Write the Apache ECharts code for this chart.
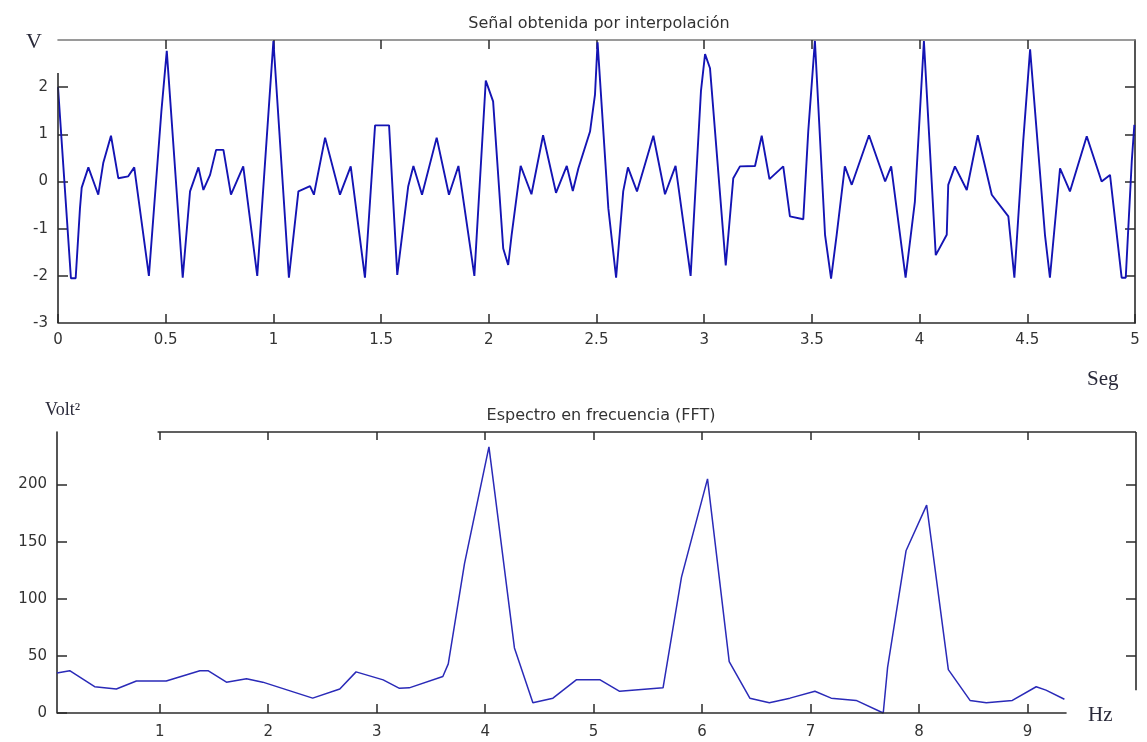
<!DOCTYPE html>
<html>
<head>
<meta charset="utf-8">
<script src="https://cdn.jsdelivr.net/npm/echarts@6/dist/echarts.min.js"></script>
<style>
html,body{margin:0;padding:0;background:#fff;}
#chart{width:1147px;height:742px;}
</style>
</head>
<body>
<div id="chart"></div>
<script>
// ---- Data ----
// Top panel: interpolated signal, [time (s), voltage (V)]
const signalPoints = [
  [0,2.0],[0.06,-2.05],[0.082,-2.05],[0.102,-0.57],[0.11,-0.13],[0.141,0.3],[0.187,-0.28],
  [0.21,0.39],[0.246,0.97],[0.28,0.07],[0.326,0.11],[0.354,0.3],[0.422,-2.0],[0.48,1.49],
  [0.505,2.77],[0.579,-2.04],[0.613,-0.21],[0.652,0.3],[0.675,-0.18],[0.706,0.14],[0.734,0.67],
  [0.768,0.67],[0.803,-0.28],[0.86,0.32],[0.925,-2.0],[1.0,2.98],[1.072,-2.04],[1.116,-0.21],
  [1.17,-0.1],[1.188,-0.28],[1.24,0.93],[1.309,-0.28],[1.359,0.32],[1.425,-2.04],[1.472,1.19],
  [1.537,1.19],[1.575,-1.98],[1.626,-0.1],[1.65,0.33],[1.69,-0.28],[1.758,0.93],[1.815,-0.28],
  [1.859,0.33],[1.933,-2.0],[1.986,2.14],[2.02,1.7],[2.067,-1.42],[2.09,-1.77],[2.106,-1.13],
  [2.148,0.33],[2.198,-0.27],[2.252,0.98],[2.312,-0.24],[2.362,0.33],[2.39,-0.2],[2.416,0.28],
  [2.47,1.06],[2.493,1.84],[2.505,2.95],[2.555,-0.57],[2.591,-2.04],[2.624,-0.21],[2.646,0.3],
  [2.688,-0.21],[2.764,0.97],[2.818,-0.27],[2.867,0.33],[2.937,-2.0],[2.985,1.92],[3.004,2.7],
  [3.027,2.4],[3.1,-1.78],[3.135,0.07],[3.166,0.32],[3.236,0.33],[3.267,0.97],[3.303,0.05],
  [3.367,0.32],[3.398,-0.74],[3.46,-0.8],[3.483,1.06],[3.514,2.98],[3.561,-1.13],[3.589,-2.06],
  [3.615,-1.13],[3.653,0.32],[3.685,-0.07],[3.765,0.98],[3.84,0.0],[3.868,0.32],[3.935,-2.04],
  [3.978,-0.43],[4.02,2.98],[4.075,-1.56],[4.126,-1.13],[4.133,-0.07],[4.164,0.32],[4.219,-0.18],
  [4.27,0.98],[4.335,-0.28],[4.412,-0.74],[4.44,-2.04],[4.481,0.85],[4.513,2.8],[4.582,-1.13],
  [4.605,-2.04],[4.652,0.28],[4.698,-0.21],[4.776,0.96],[4.845,0.0],[4.884,0.14],[4.938,-2.04],
  [4.957,-2.04],[4.985,0.43],[4.997,1.2]
];
// Bottom panel: FFT spectrum, [frequency (Hz), Volt^2]
const spectrumPoints = [
  [0.053,35],[0.17,37],[0.4,23],[0.6,21],[0.785,28],[1.06,28],[1.37,37],[1.445,37],[1.615,27],
  [1.8,30],[1.95,27],[2.41,13],[2.66,21],[2.81,36],[3.06,29],[3.21,21.6],[3.3,22],[3.61,32],
  [3.66,43],[3.81,131],[4.035,233],[4.09,192],[4.27,57],[4.44,9],[4.625,13],[4.84,29],[5.06,29],
  [5.24,19],[5.64,22],[5.81,119],[6.05,205],[6.25,45],[6.44,13],[6.62,9],[6.81,13],[7.04,19],
  [7.19,13],[7.42,11],[7.67,0],[7.71,40],[7.88,142],[8.07,182],[8.27,38],[8.47,11],[8.62,9],
  [8.86,11],[9.08,23],[9.17,20],[9.34,12]
];
// Tick labels
const topYLabels = [-3,-2,-1,0,1,2];
const topYTicks = [-2,-1,0,1,2];
const topXTicksTop = [0.5,1,1.5,2,2.5,3,3.5,4,4.5];
const botXLabels = [1,2,3,4,5,6,7,8,9];
const botXTicksTop = [1,2,3,4,5,6,7,8,9];
const botYLabels = [0,50,100,150,200];
const botYTicksRight = [50,100,150,200];
// Titles
const topTitle = 'Señal obtenida por interpolación';
const botTitle = 'Espectro en frecuencia (FFT)';

// Axis extents
const topX = [0,5], topY = [-3,3];
const botX = [0.053,10], botY = [0,246];
// Partial frame lines (data coordinates)
const topLeftAxisEnd = 2.3;
const botBottomAxisEnd = 9.36;
const botTopFrameStart = 0.98;
const botRightFrameStart = 20;

const chart = echarts.init(document.getElementById('chart'), null, {renderer:'canvas'});
const axisColor = '#2b2b2b';
const frameColor = '#7a7a7a';
const labelFont = {color:'#333', fontSize:15, fontFamily:'DejaVu Sans'};

function ml(a, b, color){
  return [{coord:a, lineStyle:{color:color, width:1.6, type:'solid'}}, {coord:b}];
}

const option = {
  backgroundColor:'#ffffff',
  animation:false,
  title:[
    {text:topTitle, left:594, top:11, textAlign:'center',
     textStyle:{fontSize:16, fontWeight:'normal', color:'#333', fontFamily:'DejaVu Sans'}},
    {text:botTitle, left:596, top:403, textAlign:'center',
     textStyle:{fontSize:16, fontWeight:'normal', color:'#333', fontFamily:'DejaVu Sans'}}
  ],
  grid:[
    {left:58, right:12, top:40, height:283},
    {left:57, right:11, top:432, height:281}
  ],
  xAxis:[
    {gridIndex:0, type:'value', min:topX[0], max:topX[1], interval:0.5, position:'bottom',
     axisLine:{show:true, onZero:false, lineStyle:{color:axisColor, width:1.6}},
     axisTick:{show:true, inside:true, length:9, lineStyle:{color:axisColor, width:1.5}},
     axisLabel:{...labelFont, margin:10, showMinLabel:true, showMaxLabel:true},
     splitLine:{show:false}},
    {gridIndex:0, type:'value', min:topX[0], max:topX[1], position:'top',
     axisLine:{show:true, onZero:false, lineStyle:{color:frameColor, width:1.6}},
     axisTick:{show:true, inside:true, length:9, customValues:topXTicksTop, lineStyle:{color:axisColor, width:1.5}},
     axisLabel:{show:false}, splitLine:{show:false}},
    {gridIndex:1, type:'value', min:botX[0], max:botX[1], position:'bottom',
     axisLine:{show:false, onZero:false},
     axisTick:{show:true, inside:true, length:9, customValues:botXLabels, lineStyle:{color:axisColor, width:1.5}},
     axisLabel:{...labelFont, margin:12, customValues:botXLabels},
     splitLine:{show:false}},
    {gridIndex:1, type:'value', min:botX[0], max:botX[1], position:'top',
     axisLine:{show:false, onZero:false},
     axisTick:{show:true, inside:true, length:8, customValues:botXTicksTop, lineStyle:{color:axisColor, width:1.5}},
     axisLabel:{show:false}, splitLine:{show:false}}
  ],
  yAxis:[
    {gridIndex:0, type:'value', min:topY[0], max:topY[1], position:'left',
     axisLine:{show:false, onZero:false},
     axisTick:{show:true, inside:true, length:10, customValues:topYTicks, lineStyle:{color:axisColor, width:1.5}},
     axisLabel:{...labelFont, margin:10, customValues:topYLabels},
     splitLine:{show:false}},
    {gridIndex:0, type:'value', min:topY[0], max:topY[1], position:'right',
     axisLine:{show:true, onZero:false, lineStyle:{color:axisColor, width:1.6}},
     axisTick:{show:true, inside:true, length:10, customValues:topYTicks, lineStyle:{color:axisColor, width:1.5}},
     axisLabel:{show:false}, splitLine:{show:false}},
    {gridIndex:1, type:'value', min:botY[0], max:botY[1], position:'left',
     axisLine:{show:true, onZero:false, lineStyle:{color:axisColor, width:1.6}},
     axisTick:{show:true, inside:true, length:10, customValues:botYLabels, lineStyle:{color:axisColor, width:1.5}},
     axisLabel:{...labelFont, margin:10, customValues:botYLabels},
     splitLine:{show:false}},
    {gridIndex:1, type:'value', min:botY[0], max:botY[1], position:'right',
     axisLine:{show:false, onZero:false},
     axisTick:{show:true, inside:true, length:10, customValues:botYTicksRight, lineStyle:{color:axisColor, width:1.5}},
     axisLabel:{show:false}, splitLine:{show:false}}
  ],
  series:[
    {type:'line', xAxisIndex:0, yAxisIndex:0, data:signalPoints, showSymbol:false, symbol:'none',
     clip:false, lineStyle:{color:'#1414b4', width:1.9}, itemStyle:{color:'#1414b4'},
     markLine:{silent:true, symbol:['none','none'], label:{show:false}, animation:false,
       data:[ ml([topX[0], topY[0]], [topX[0], topLeftAxisEnd], axisColor) ]}},
    {type:'line', xAxisIndex:2, yAxisIndex:2, data:spectrumPoints, showSymbol:false, symbol:'none',
     clip:false, lineStyle:{color:'#2a2ab8', width:1.5}, itemStyle:{color:'#2a2ab8'},
     markLine:{silent:true, symbol:['none','none'], label:{show:false}, animation:false,
       data:[
         ml([botX[0], botY[0]], [botBottomAxisEnd, botY[0]], axisColor),
         ml([botTopFrameStart, botY[1]], [botX[1], botY[1]], axisColor),
         ml([botX[1], botRightFrameStart], [botX[1], botY[1]], axisColor)
       ]}}
  ],
  graphic:[
    {type:'text', left:26, top:31, style:{text:'V', font:'22px "Liberation Serif", serif', fill:'#2a2a3a'}},
    {type:'text', left:45, top:401, style:{text:'Volt²', font:'18px "Liberation Serif", serif', fill:'#2a2a3a'}},
    {type:'text', left:1087, top:369, style:{text:'Seg', font:'21px "Liberation Serif", serif', fill:'#2a2a3a'}},
    {type:'text', left:1088, top:705, style:{text:'Hz', font:'21px "Liberation Serif", serif', fill:'#2a2a3a'}}
  ]
};
chart.setOption(option);
</script>
</body>
</html>
